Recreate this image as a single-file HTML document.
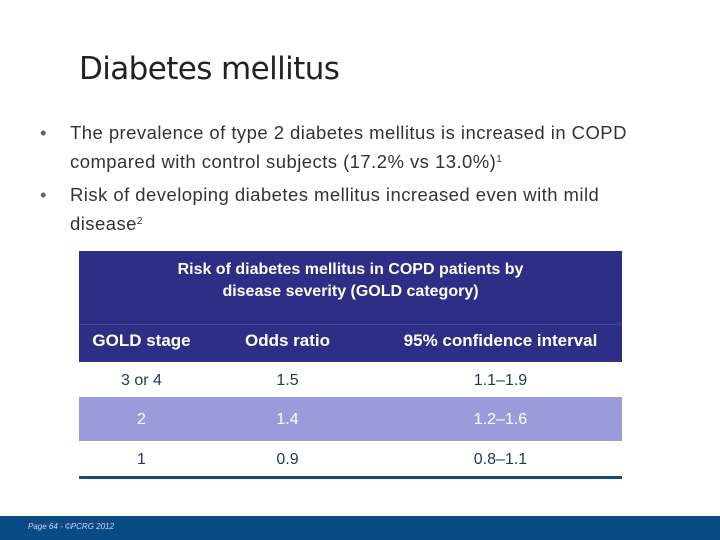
<!DOCTYPE html>
<html><head><meta charset="utf-8"><style>
body{margin:0;width:720px;height:540px;position:relative;background:#fff;font-family:"Liberation Sans",sans-serif;overflow:hidden}
.t{position:absolute;white-space:nowrap}
.cell{position:absolute;text-align:center;font-size:16px}
sup{font-size:10px;line-height:0;vertical-align:6px}
</style></head><body>
<div class="t" style="left:79px;top:51px;font-size:31px;color:#222;font-family:'DejaVu Sans',sans-serif;letter-spacing:-0.6px">Diabetes mellitus</div>
<div class="t" style="left:40px;top:118px;font-size:18.5px;color:#333;line-height:29px;letter-spacing:0.45px">
<span style="position:absolute;left:0;color:#666">•</span><div style="margin-left:30px">The prevalence of type 2 diabetes mellitus is increased in COPD<br>compared with control subjects (17.2% vs 13.0%)<sup>1</sup></div></div>
<div class="t" style="left:40px;top:180px;font-size:18.5px;color:#333;line-height:29px;letter-spacing:0.45px">
<span style="position:absolute;left:0;color:#666">•</span><div style="margin-left:30px">Risk of developing diabetes mellitus increased even with mild<br>disease<sup>2</sup></div></div>
<div style="position:absolute;left:79px;top:251px;width:543px;height:227px">
<div style="position:absolute;left:0;top:0;width:543px;height:111px;background:#2e2e87"></div>
<div style="position:absolute;left:0;top:73px;width:543px;height:1px;background:#3a4a9a"></div>
<div class="cell" style="left:0;top:8px;width:543px;color:#fff;font-weight:bold;line-height:22px">Risk of diabetes mellitus in COPD patients by<br>disease severity (GOLD category)</div>
<div class="cell" style="left:0;top:80px;width:125px;color:#fff;font-weight:bold;font-size:17px">GOLD stage</div>
<div class="cell" style="left:145px;top:80px;width:127px;color:#fff;font-weight:bold;font-size:17px">Odds ratio</div>
<div class="cell" style="left:300px;top:80px;width:243px;color:#fff;font-weight:bold;font-size:17px">95% confidence interval</div>
<div style="position:absolute;left:0;top:146px;width:543px;height:44px;background:#9b9bdb"></div>
<div class="cell" style="left:0;top:121px;width:125px;color:#1a3a5c">3 or 4</div>
<div class="cell" style="left:145px;top:121px;width:127px;color:#1a3a5c">1.5</div>
<div class="cell" style="left:300px;top:121px;width:243px;color:#1a3a5c">1.1–1.9</div>
<div class="cell" style="left:0;top:160px;width:125px;color:#fff">2</div>
<div class="cell" style="left:145px;top:160px;width:127px;color:#fff">1.4</div>
<div class="cell" style="left:300px;top:160px;width:243px;color:#fff">1.2–1.6</div>
<div class="cell" style="left:0;top:200px;width:125px;color:#1a3a5c">1</div>
<div class="cell" style="left:145px;top:200px;width:127px;color:#1a3a5c">0.9</div>
<div class="cell" style="left:300px;top:200px;width:243px;color:#1a3a5c">0.8–1.1</div>
<div style="position:absolute;left:0;top:225px;width:543px;height:3px;background:#1a4a7a"></div>
</div>
<div style="position:absolute;left:0;top:516px;width:720px;height:24px;background:#0a4a85"></div>
<div class="t" style="left:28px;top:522px;font-size:8px;color:#cfd8e8;font-style:italic">Page 64 - ©PCRG 2012</div>
</body></html>
